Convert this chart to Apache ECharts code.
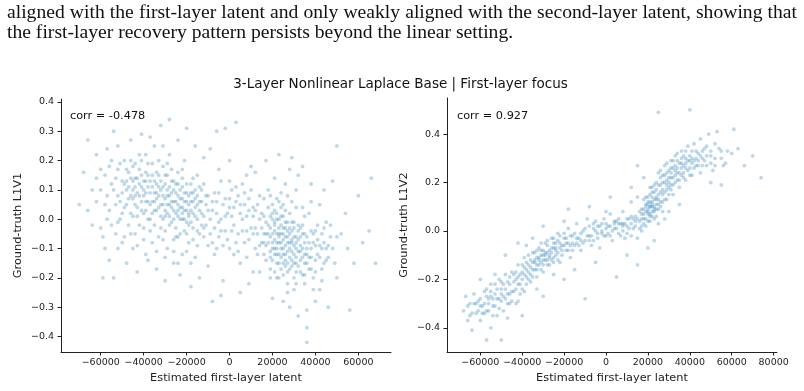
<!DOCTYPE html>
<html>
<head>
<meta charset="utf-8">
<script src="https://cdn.jsdelivr.net/npm/echarts@6/dist/echarts.min.js"></script>
<style>
  html, body { margin: 0; padding: 0; background: #fff; }
  #chart { width: 804px; height: 391px; }
</style>
</head>
<body>
<div id="chart"></div>
<script>
// caption lines above the figure
const captionLines = [
  'aligned with the first-layer latent and only weakly aligned with the second-layer latent, showing that',
  'the first-layer recovery pattern persists beyond the linear setting.'
];
const figTitle = '3-Layer Nonlinear Laplace Base | First-layer focus';

// tick labels
const xTicksL = [-60000, -40000, -20000, 0, 20000, 40000, 60000];
const yTicksL = [-0.4, -0.3, -0.2, -0.1, 0, 0.1, 0.2, 0.3, 0.4];
const xTicksR = [-60000, -40000, -20000, 0, 20000, 40000, 60000, 80000];
const yTicksR = [-0.4, -0.2, 0, 0.2, 0.4];

const corrL = 'corr = -0.478';
const corrR = 'corr = 0.927';

// left panel: estimated latent vs ground-truth L1V1
const pointsL = [
  [-45000,0.10],[-42000,0.12],[-40000,0.08],[-38000,0.11],[-36000,0.06],[-35000,0.09],[-33000,0.04],[-32000,0.10],
  [-30000,0.07],[-29000,0.02],[-28000,0.05],[-27000,0.09],[-26000,0.03],[-25000,0.06],[-24000,0.01],[-23000,0.04],
  [-22000,0.07],[-21000,0.00],[-20000,0.03],[-19000,0.05],[-18000,-0.01],[-17000,0.02],[-16000,0.04],[-15000,0.00],
  [-48000,0.13],[-47000,0.07],[-46000,0.14],[-44000,0.05],[-43000,0.09],[-41000,0.15],[-39000,0.03],[-37000,0.13],
  [-34000,0.12],[-31000,0.00],[-30000,0.12],[-28000,-0.02],[-27000,0.13],[-25000,-0.03],[-23000,0.10],[-21000,-0.04],
  [-20000,0.09],[-18000,0.06],[-14000,0.03],[-13000,-0.02],[-44000,0.11],[-41000,0.06],[-39000,0.09],[-36000,0.11],
  [-34000,0.07],[-32000,0.05],[-29000,0.08],[-26000,0.06],[-24000,0.08],[-22000,0.02],[-19000,0.01],[-17000,0.06],
  [-55000,0.12],[-53000,0.05],[-52000,0.17],[-50000,0.09],[-51000,0.00],[-49000,0.20],[-47000,-0.02],[-45000,0.18],
  [-44000,-0.05],[-42000,0.22],[-40000,-0.03],[-38000,0.19],[-36000,-0.08],[-35000,0.25],[-33000,-0.06],[-31000,0.18],
  [-29000,-0.10],[-28000,0.22],[-26000,-0.07],[-24000,0.16],[-22000,-0.12],[-21000,0.20],[-19000,-0.08],[-17000,0.14],
  [-16000,-0.13],[-14000,0.11],[-12000,-0.06],[-11000,0.08],
  [-52000,0.08],[-50000,0.13],[-49000,0.04],[-48000,0.10],[-47000,0.16],[-46000,0.02],[-45000,0.07],[-44000,0.14],
  [-43000,0.01],[-42000,0.08],[-41000,0.11],[-40000,0.13],[-40000,0.02],[-39000,0.16],[-38000,0.06],[-37000,0.00],
  [-37000,0.09],[-36000,0.15],[-35000,0.03],[-35000,0.13],[-34000,0.09],[-33000,0.15],[-33000,0.08],[-32000,0.01],
  [-31000,0.11],[-31000,0.05],[-30000,0.03],[-30000,-0.04],[-29000,0.10],[-29000,0.15],[-28000,0.08],[-27000,0.04],
  [-27000,-0.01],[-26000,0.10],[-25000,0.02],[-25000,0.12],[-24000,0.05],[-24000,-0.06],[-23000,0.00],[-22000,0.11],
  [-22000,0.04],[-21000,0.06],[-20000,-0.01],[-20000,0.06],[-19000,0.02],[-18000,0.09],[-17000,-0.03],[-16000,0.07],
  [-15000,0.05],[-14000,-0.05],[-13000,0.06],[-12000,0.01],[-11000,-0.02],[-46000,0.20],[-43000,-0.09],[-39000,0.22],
  [-34000,-0.11],[-31000,0.25],[-26000,-0.11],[-22000,0.14],[-18000,-0.15],[-15000,0.15],[-12000,0.12],[-58000,0.05],
  [-56000,0.18],[-60000,-0.03],[-62000,0.14],[-53000,-0.05],[-57000,0.00],
  [-58000,0.15],[-57000,0.08],[-56000,0.03],[-55000,0.20],[-55000,-0.02],[-54000,0.10],[-53000,0.14],[-52000,-0.01],
  [-51000,0.06],[-51000,0.19],[-50000,0.02],[-49000,0.12],[-49000,-0.06],[-48000,0.05],[-48000,0.17],[-47000,0.11],
  [-46000,-0.05],[-46000,0.08],[-45000,0.13],[-45000,0.01],[-44000,0.19],[-44000,0.08],[-43000,0.04],[-43000,0.14],
  [-42000,-0.02],[-42000,0.17],[-41000,0.03],[-41000,0.20],[-40000,0.10],[-40000,-0.07],[-39000,0.06],[-39000,0.13],
  [-38000,0.00],[-38000,0.15],[-37000,0.05],[-37000,-0.04],[-36000,0.02],[-36000,0.19],[-35000,0.06],[-35000,-0.02],
  [-34000,0.16],[-34000,0.03],[-33000,0.11],[-33000,0.20],[-32000,-0.03],[-32000,0.13],[-31000,0.08],[-31000,-0.07],
  [-30000,0.15],[-30000,0.01],[-29000,0.05],[-29000,0.19],[-28000,0.11],[-28000,0.01],[-27000,0.06],[-27000,0.17],
  [-26000,0.00],[-26000,0.13],[-25000,0.09],[-25000,-0.06],[-24000,0.12],[-24000,0.03],[-23000,0.07],[-23000,-0.05],
  [-22000,0.00],[-22000,0.17],[-21000,0.09],[-21000,0.03],[-20000,0.12],[-20000,-0.05],[-19000,0.08],[-19000,-0.02],
  [-18000,0.03],[-18000,0.12],[-17000,0.09],[-17000,-0.07],[-16000,0.01],[-16000,0.10],[-15000,-0.04],[-15000,0.08],
  [-14000,0.06],[-13000,0.02],[-13000,0.10],[-12000,-0.03],[-11000,0.05],[-10000,0.08],[-10000,-0.09],[-8000,0.03],
  [-6000,0.06],[-5000,-0.06],[-62000,0.06],[-60000,0.17],[-64000,0.10],[-66000,0.03],[-59000,-0.06],[-52000,-0.10],
  [-45000,-0.10],[-38000,-0.14],[-30000,-0.13],[-24000,-0.15],[-20000,-0.11],[-15000,-0.09],
  [-70000,0.05],[-68000,0.16],[-66000,0.27],[-64000,-0.02],[-62000,0.22],[-60000,0.10],[-59000,-0.20],[-58000,-0.10],
  [-57000,0.24],[-56000,-0.14],[-54000,0.30],[-54000,-0.20],[-52000,0.25],[-50000,-0.08],[-48000,-0.15],[-46000,0.27],
  [-43000,-0.18],[-41000,0.29],[-39000,-0.12],[-37000,0.28],[-34000,-0.17],[-32000,0.32],[-30000,-0.21],[-28000,0.34],
  [-26000,-0.15],[-24000,0.27],[-23000,-0.19],[-20000,0.31],[-18000,-0.23],[-16000,0.25],[-14000,-0.20],[-12000,0.21],
  [-10000,-0.16],[-9000,0.24],[-8000,-0.28],[-6000,0.30],[-5000,0.17],[-3000,-0.21],[-2000,0.31],[3000,0.33],[0,0.20],
  [-10000,0.03],[-9000,0.00],[-8000,0.06],[-7000,-0.03],[-6000,0.02],[-5000,0.09],[-4000,-0.04],[-3000,0.05],
  [-2000,0.01],[-1000,-0.07],[0,0.04],[1000,0.10],[2000,-0.02],[3000,0.06],[4000,-0.05],[5000,0.02],[6000,0.12],
  [7000,-0.08],[8000,0.01],[9000,0.07],[10000,-0.03],[11000,0.04],[12000,-0.10],[-4000,0.13],[2000,-0.12],
  [5000,-0.15],[8000,0.15],[-7000,-0.12],[0,-0.10],[10000,0.18],
  [-9000,-0.05],[-7000,0.09],[-5000,-0.01],[-3000,-0.09],[-2000,0.07],[-1000,0.02],[1000,-0.04],[2000,0.04],
  [4000,0.08],[6000,-0.04],[7000,0.05],[9000,-0.07],[10000,0.10],[11000,-0.05],[4000,-0.11],[-6000,-0.10],
  [8000,-0.13],[0,0.13],
  [-4000,0.00],[-2000,-0.04],[0,0.07],[1000,0.01],[3000,-0.08],[5000,0.05],[6000,0.00],[8000,-0.04],
  [9000,0.03],[3000,0.11],[-8000,-0.08],[7000,0.09],
  [18000,-0.02],[19000,-0.06],[20000,0.00],[21000,-0.04],[22000,-0.08],[22000,0.02],[23000,-0.03],[24000,-0.10],
  [24000,-0.05],[25000,0.01],[25000,-0.07],[26000,-0.12],[26000,-0.03],[27000,-0.08],[28000,-0.05],[28000,-0.13],
  [29000,-0.01],[30000,-0.09],[30000,-0.15],[31000,-0.06],[32000,-0.11],[33000,-0.03],[34000,-0.13],[35000,-0.08],
  [20000,-0.10],[21000,0.03],[23000,-0.12],[27000,-0.15],[29000,-0.11],[17000,-0.05],[16000,0.01],[15000,-0.03],
  [21000,-0.07],[23000,-0.06],[24000,-0.02],[26000,-0.09],[27000,-0.04],[29000,-0.07],[31000,-0.10],[22000,-0.12],
  [18000,-0.08],[19000,0.01],[19000,-0.11],[20000,-0.05],[20000,-0.14],[21000,-0.01],[21000,-0.10],[22000,-0.05],
  [22000,-0.15],[23000,0.00],[23000,-0.08],[24000,-0.13],[24000,0.04],[25000,-0.03],[25000,-0.10],[25000,-0.15],
  [26000,-0.06],[26000,0.03],[27000,-0.11],[27000,-0.01],[28000,-0.08],[28000,-0.17],[29000,-0.04],[29000,-0.14],
  [30000,-0.06],[30000,-0.01],[31000,-0.13],[31000,-0.18],[32000,-0.07],[32000,-0.02],[33000,-0.09],[33000,-0.14],
  [34000,-0.05],[35000,-0.12],[36000,-0.06],[36000,-0.10],[37000,-0.13],[38000,-0.04],[39000,-0.08],[40000,-0.14],
  [41000,-0.02],[42000,-0.09],[43000,-0.05],[44000,-0.15],[45000,-0.10],[17000,-0.09],[16000,-0.05],[15000,-0.08],
  [14000,0.00],[13000,-0.05],[24000,-0.17],[26000,-0.16],[30000,-0.20],[34000,-0.19],[38000,-0.17],[20000,0.05],
  [23000,0.06],[27000,0.08],[19000,-0.20],[12000,0.03],[13000,-0.12],
  [15000,0.02],[16000,-0.08],[17000,-0.01],[17000,-0.14],[18000,-0.05],[18000,0.04],[19000,-0.03],[19000,-0.13],
  [20000,-0.08],[20000,0.02],[21000,-0.12],[21000,-0.02],[22000,-0.10],[22000,0.00],[23000,-0.05],[23000,-0.15],
  [24000,-0.08],[24000,0.01],[25000,-0.12],[25000,-0.05],[26000,-0.01],[26000,-0.14],[27000,-0.06],[27000,-0.18],
  [28000,-0.10],[28000,-0.03],[29000,-0.16],[29000,-0.08],[30000,-0.12],[30000,-0.03],[31000,-0.08],[31000,-0.15],
  [32000,-0.04],[32000,-0.16],[33000,-0.11],[33000,-0.06],[34000,-0.10],[34000,-0.02],[35000,-0.15],[35000,-0.05],
  [36000,-0.12],[37000,-0.08],[37000,-0.17],[38000,-0.13],[39000,-0.05],[40000,-0.09],[40000,-0.18],[41000,-0.07],
  [42000,-0.13],[43000,-0.10],[44000,-0.03],[45000,-0.14],[46000,-0.09],[47000,-0.02],[48000,-0.10],[50000,-0.06],
  [49000,-0.15],[14000,-0.09],[13000,0.05],[12000,-0.03],[11000,0.01],[16000,0.07],[19000,0.08],[22000,0.07],
  [25000,0.05],[28000,0.02],[31000,0.04],[35000,0.01],[38000,0.06],[23000,-0.20],[27000,-0.25],[31000,-0.22],
  [35000,-0.19],[39000,-0.24],[43000,-0.21],[21000,-0.18],
  [14000,0.08],[16000,-0.12],[18000,0.10],[19000,-0.17],[21000,0.14],[22000,-0.20],[24000,0.09],[25000,-0.19],
  [26000,0.12],[27000,-0.22],[29000,0.06],[30000,-0.24],[31000,0.10],[33000,-0.18],[34000,0.04],[36000,-0.15],
  [37000,0.02],[38000,-0.10],[39000,-0.20],[40000,-0.04],[41000,-0.12],[42000,0.05],[43000,-0.17],[44000,-0.08],
  [45000,-0.01],[46000,-0.13],[47000,-0.06],[35000,-0.22],[32000,0.15],[28000,0.17],
  [12000,0.16],[14000,-0.18],[17000,0.20],[20000,-0.27],[23000,0.22],[25000,-0.28],[28000,-0.30],[29000,0.21],
  [32000,-0.33],[34000,0.18],[36000,-0.31],[38000,0.12],[40000,-0.28],[42000,-0.24],[44000,0.10],[46000,-0.30],
  [48000,0.13],[50000,0.25],[50000,-0.20],[52000,-0.05],[54000,0.02],[55000,-0.10],[56000,-0.31],[58000,-0.15],
  [60000,0.08],[62000,-0.08],[66000,0.14],[68000,-0.15],[65000,-0.04],[36000,-0.37],[36000,-0.42],[9000,-0.22],
  [5000,-0.25],[-4000,-0.26],[11000,-0.18]
];

// right panel: estimated latent vs ground-truth L1V2
const pointsR = [
  [-68000,-0.33],[-67000,-0.27],[-66000,-0.37],[-65000,-0.30],[-63000,-0.26],[-62000,-0.34],[-61000,-0.29],[-60000,-0.37],
  [-59000,-0.31],[-58000,-0.25],[-57000,-0.33],[-56000,-0.28],[-55000,-0.40],[-55000,-0.22],[-54000,-0.31],[-53000,-0.26],
  [-52000,-0.35],[-51000,-0.20],[-50000,-0.29],[-50000,-0.24],[-49000,-0.33],[-48000,-0.18],[-47000,-0.26],[-46000,-0.22],
  [-46000,-0.30],[-45000,-0.17],[-44000,-0.25],[-43000,-0.20],[-42000,-0.14],[-42000,-0.29],[-41000,-0.22],[-40000,-0.17],
  [-39000,-0.11],[-39000,-0.25],[-38000,-0.19],[-37000,-0.14],[-36000,-0.21],[-35000,-0.09],[-35000,-0.16],[-34000,-0.12],
  [-33000,-0.19],[-32000,-0.07],[-32000,-0.14],[-31000,-0.10],[-30000,-0.17],[-29000,-0.05],[-29000,-0.12],[-28000,-0.09],
  [-27000,-0.14],[-26000,-0.03],[-26000,-0.07],[-25000,-0.11],[-24000,-0.05],[-23000,-0.09],[-22000,-0.02],[-22000,-0.13],
  [-21000,-0.06],[-20000,-0.03],[-19000,-0.08],[-18000,0.01],[-18000,-0.05],[-17000,-0.11],[-16000,-0.02],[-15000,-0.06],
  [-14000,0.03],[-13000,-0.03],[-12000,-0.08],[-11000,0.00],[-10000,-0.04],[-9000,0.05],[-8000,-0.02],[-7000,-0.06],
  [-6000,0.01],[-5000,0.04],[-4000,-0.03],[-3000,0.02],[-2000,-0.01],[-1000,0.05],[0,-0.02],[1000,0.02],[2000,0.07],
  [3000,-0.04],[4000,0.01],[5000,0.04],[6000,-0.01],[7000,0.03],[8000,0.08],[9000,-0.03],[10000,0.02],[11000,0.05],
  [12000,-0.02],[13000,0.01],[14000,0.06],[15000,-0.03],[16000,0.04],[17000,0.09],[17000,0.00],[18000,0.05],[18000,0.13],
  [19000,0.02],[19000,0.08],[20000,0.11],[20000,0.04],[21000,0.15],[21000,0.07],[22000,0.10],[22000,0.18],[23000,0.05],
  [23000,0.13],[24000,0.20],[24000,0.09],[25000,0.15],[25000,0.24],[26000,0.12],[26000,0.19],[27000,0.23],[27000,0.08],
  [28000,0.16],[28000,0.27],[29000,0.21],[29000,0.13],[30000,0.25],[30000,0.18],[31000,0.29],[31000,0.22],[32000,0.15],
  [32000,0.26],[33000,0.31],[33000,0.20],[34000,0.24],[35000,0.28],[35000,0.18],[36000,0.33],[36000,0.23],[37000,0.27],
  [38000,0.30],[38000,0.21],[39000,0.35],[40000,0.26],[40000,0.31],[41000,0.23],[42000,0.29],[42000,0.36],[43000,0.27],
  [44000,0.32],[45000,0.24],[45000,0.38],[46000,0.30],[47000,0.34],[48000,0.27],[49000,0.40],[50000,0.31],[51000,0.25],
  [52000,0.36],[55000,0.30],[57000,0.28],[58000,0.33],[60000,0.32],[61000,0.42],[63000,0.34],[66000,0.27],[70000,0.31],
  [74000,0.22],[40000,0.50],[25000,0.49],[55000,0.19],
  [-64000,-0.34],[-62000,-0.30],[-60000,-0.28],[-59000,-0.34],[-58000,-0.30],[-57000,-0.27],[-56000,-0.33],[-55000,-0.25],
  [-54000,-0.28],[-53000,-0.31],[-52000,-0.24],[-51000,-0.28],[-50000,-0.21],[-49000,-0.27],[-48000,-0.24],[-47000,-0.30],
  [-46000,-0.19],[-45000,-0.25],[-44000,-0.21],[-43000,-0.17],[-42000,-0.22],[-41000,-0.18],[-40000,-0.24],[-39000,-0.15],
  [-38000,-0.13],[-38000,-0.22],[-37000,-0.17],[-36000,-0.12],[-36000,-0.18],[-35000,-0.13],[-34000,-0.16],[-34000,-0.09],
  [-33000,-0.14],[-32000,-0.11],[-31000,-0.08],[-31000,-0.16],[-30000,-0.12],[-29000,-0.09],[-28000,-0.06],[-28000,-0.14],
  [-27000,-0.10],[-26000,-0.12],[-25000,-0.05],[-24000,-0.08],[-23000,-0.12],[-23000,-0.04],[-22000,-0.07],[-21000,-0.10],
  [-20000,-0.06],[-19000,-0.03],[-17000,-0.06],[-16000,-0.05],[-14000,-0.03],[-13000,-0.06],[-12000,-0.01],[-11000,-0.05],
  [-9000,-0.02],[-8000,0.02],[-7000,-0.02],[-6000,-0.04],[-5000,0.00],[-4000,0.02],[-2000,0.03],[-1000,-0.02],[0,0.01],
  [1000,-0.01],[2000,0.02],[3000,0.00],[4000,0.04],[5000,0.01],[6000,0.03],[7000,-0.02],[8000,0.00],[9000,0.03],
  [10000,0.05],[11000,0.01],[12000,0.03],[13000,0.05],[14000,0.02],[15000,0.05],[16000,0.01],[16000,0.08],[17000,0.05],
  [18000,0.09],[19000,0.11],[19000,0.05],[20000,0.14],[20000,0.07],[21000,0.10],[21000,0.04],[22000,0.12],[22000,0.08],
  [23000,0.16],[23000,0.10],[24000,0.14],[24000,0.06],[25000,0.19],[26000,0.16],[26000,0.22],[27000,0.17],[27000,0.12],
  [28000,0.20],[29000,0.24],[29000,0.17],[30000,0.22],[31000,0.19],[31000,0.26],[32000,0.22],[33000,0.27],[34000,0.21],
  [34000,0.29],[35000,0.24],[36000,0.28],[37000,0.31],[37000,0.22],[38000,0.26],[39000,0.29],[40000,0.23],[41000,0.28],
  [41000,0.33],[43000,0.30],[44000,0.27],[46000,0.33],[47000,0.29],[48000,0.31],[50000,0.28],[52000,0.30],[54000,0.34],
  [56000,0.27],
  [-66000,-0.31],[-65000,-0.35],[-63000,-0.30],[-61000,-0.33],[-60000,-0.31],[-58000,-0.34],[-57000,-0.24],[-56000,-0.30],
  [-55000,-0.27],[-54000,-0.35],[-53000,-0.22],[-52000,-0.28],[-51000,-0.32],[-50000,-0.26],[-49000,-0.22],[-48000,-0.28],
  [-47000,-0.21],[-46000,-0.26],[-45000,-0.29],[-44000,-0.18],[-43000,-0.24],[-42000,-0.19],[-41000,-0.26],[-40000,-0.14],
  [-40000,-0.20],[-39000,-0.18],[-38000,-0.16],[-37000,-0.20],[-37000,-0.10],[-36000,-0.15],[-35000,-0.19],[-34000,-0.13],
  [-33000,-0.08],[-33000,-0.16],[-32000,-0.12],[-31000,-0.05],[-30000,-0.08],[-30000,-0.14],[-29000,-0.10],[-28000,-0.04],
  [-27000,-0.11],[-26000,-0.09],[-25000,-0.13],[-25000,-0.03],[-24000,-0.07],[-23000,-0.01],[-22000,-0.05],[-21000,-0.08],
  [-20000,-0.01],[-19000,-0.05],[-18000,-0.08],[-17000,-0.02],[-16000,-0.08],[-15000,-0.01],[-14000,-0.05],[-12000,-0.04],
  [-10000,0.01],[-8000,-0.04],[-6000,0.03],[-4000,-0.01],[-2000,0.00],[0,0.03],[2000,-0.02],[4000,0.03],[6000,0.05],
  [8000,0.02],[10000,-0.01],[12000,0.06],[14000,0.04],
  [17000,0.02],[17000,0.07],[18000,0.03],[18000,0.07],[19000,0.10],[19000,0.14],[20000,0.09],[20000,0.12],[21000,0.06],
  [21000,0.18],[22000,0.11],[22000,0.16],[23000,0.08],[23000,0.19],[24000,0.11],[24000,0.17],[25000,0.09],[25000,0.13],
  [26000,0.10],[26000,0.25],[27000,0.15],[27000,0.20],[28000,0.13],[28000,0.23],[29000,0.19],[29000,0.28],[30000,0.15],
  [30000,0.20],[31000,0.17],[31000,0.24],[32000,0.19],[32000,0.29],[33000,0.23],[33000,0.25],[34000,0.26],[34000,0.32],
  [35000,0.21],[36000,0.26],[36000,0.30],[37000,0.24],[38000,0.28],[38000,0.33],[39000,0.25],[40000,0.29],[41000,0.30],
  [42000,0.26],[43000,0.33],[44000,0.29],[45000,0.31],[46000,0.27],[48000,0.35],[50000,0.33],[52000,0.27],[55000,0.33],
  [-57000,-0.45],[-50000,-0.45],[-64000,-0.41],[-40000,-0.35],[-30000,-0.27],[-20000,-0.20],[-18000,0.09],[-30000,0.02],
  [-8000,0.10],[-5000,-0.13],[5000,-0.19],[2000,0.14],[10000,-0.10],[12000,0.12],[15000,-0.14],[15000,0.14],
  [20000,-0.07],[23000,-0.04],[25000,0.03],[18000,0.22],[28000,0.05],[30000,0.08],[35000,0.11],[15000,0.27],
  [12000,0.18],[-10000,-0.28],[-42000,-0.05],[-48000,-0.10],[-60000,-0.20],[-25000,-0.18],[-15000,-0.16],[-35000,-0.03],
  [50000,0.20],[53000,0.41],[8000,0.03],[0,0.08],[-3000,-0.07],[-20000,0.04],[-38000,-0.06],[-47000,-0.36],
  [-53000,-0.18],[-43000,-0.30],[-33000,-0.24],
  [-30000,-0.10],[-28000,-0.12],[-27000,-0.08],[-25000,-0.07],[-24000,-0.10],[-31000,-0.13],[-33000,-0.11],
  [21000,0.10],[22000,0.06],[23000,0.09],[21000,0.12],[24000,0.13],[20000,0.08],[22000,0.14],[25000,0.11]
];

const FONT = '"DejaVu Sans", sans-serif';
const minus = (s) => String(s).replace('-', '\u2212');
const fmt1 = (v) => minus(Math.abs(v) < 1e-9 ? '0.0' : v.toFixed(1));
const fmtInt = (v) => minus(Math.round(v));

// caption text: Times-like, slightly wide as in the PDF render
const captionFont = '18px "Liberation Serif", serif';
const captionScale = 1.09;
const measure = document.createElement('canvas').getContext('2d');
measure.font = captionFont;
function captionWord(text, x, y) {
  return {type: 'text', x: x, y: y, scaleX: captionScale,
    style: {text: text, font: captionFont, fill: '#111', verticalAlign: 'middle'}};
}
function justified(line, x0, x1, y) {
  const words = line.split(' ');
  const widths = words.map(w => measure.measureText(w).width * captionScale);
  const total = widths.reduce((s, w) => s + w, 0);
  const gap = (x1 - x0 - total) / (words.length - 1);
  let x = x0;
  return words.map((w, i) => {
    const el = captionWord(w, x, y);
    x += widths[i] + gap;
    return el;
  });
}

function xAxis(idx, min, max, ticks) {
  return {
    type: 'value', gridIndex: idx, min: min, max: max,
    name: 'Estimated first-layer latent', nameLocation: 'middle', nameGap: 20,
    nameTextStyle: {fontFamily: FONT, fontSize: 11.3, color: '#222'},
    splitLine: {show: false},
    axisLine: {show: true, onZero: false, lineStyle: {color: '#222', width: 1}},
    axisTick: {show: true, inside: false, length: 3.5, customValues: ticks, lineStyle: {color: '#222'}},
    axisLabel: {customValues: ticks, formatter: fmtInt, margin: 6, fontFamily: FONT, fontSize: 9.5, color: '#222'}
  };
}
function yAxis(idx, min, max, ticks, label) {
  return {
    type: 'value', gridIndex: idx, min: min, max: max,
    name: label, nameLocation: 'middle', nameGap: 37,
    nameTextStyle: {fontFamily: FONT, fontSize: 11.3, color: '#222'},
    splitLine: {show: false},
    axisLine: {show: true, onZero: false, lineStyle: {color: '#222', width: 1}},
    axisTick: {show: true, inside: false, length: 3.5, customValues: ticks, lineStyle: {color: '#222'}},
    axisLabel: {customValues: ticks, formatter: fmt1, margin: 7, fontFamily: FONT, fontSize: 9.5, color: '#222'}
  };
}
function scatter(idx, data) {
  return {
    type: 'scatter', xAxisIndex: idx, yAxisIndex: idx, data: data,
    symbol: 'circle', symbolSize: 3.8, silent: true,
    itemStyle: {color: 'rgba(31,119,180,0.36)'}
  };
}

const chart = echarts.init(document.getElementById('chart'), null, {renderer: 'canvas'});
chart.setOption({
  animation: false,
  backgroundColor: '#fff',
  grid: [
    {left: 61, top: 99, width: 330, height: 253},
    {left: 447, top: 98, width: 330, height: 254}
  ],
  xAxis: [xAxis(0, -78500, 75200, xTicksL), xAxis(1, -75900, 81600, xTicksR)],
  yAxis: [yAxis(0, -0.453, 0.41, yTicksL, 'Ground-truth L1V1'), yAxis(1, -0.5, 0.549, yTicksR, 'Ground-truth L1V2')],
  series: [scatter(0, pointsL), scatter(1, pointsR)],
  graphic: [
    ...justified(captionLines[0], 7, 797, 13),
    captionWord(captionLines[1], 7, 33.5),
    {type: 'text', x: 400.5, y: 84, style: {text: figTitle, font: '13.5px ' + FONT, fill: '#111', align: 'center', verticalAlign: 'middle'}},
    {type: 'text', x: 70, y: 116, style: {text: corrL, font: '11.3px ' + FONT, fill: '#111', verticalAlign: 'middle'}},
    {type: 'text', x: 457, y: 116, style: {text: corrR, font: '11.3px ' + FONT, fill: '#111', verticalAlign: 'middle'}}
  ]
});
</script>
</body>
</html>
